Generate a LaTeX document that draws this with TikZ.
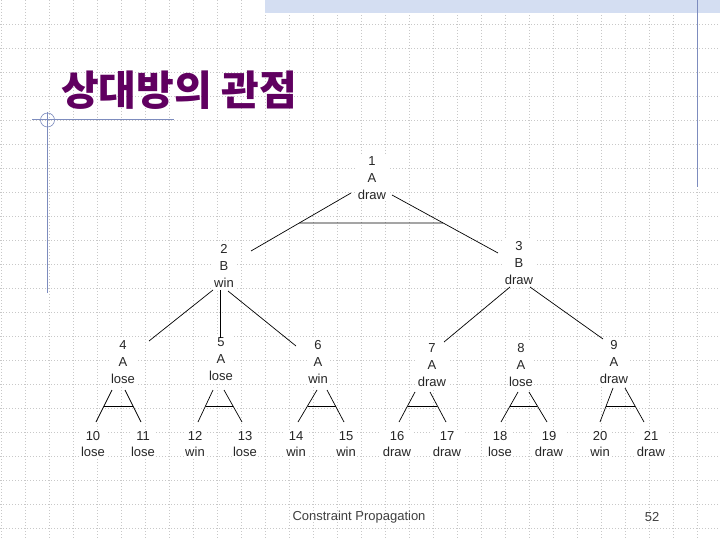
\documentclass[tikz,border=0pt]{standalone}
\usepackage{fontspec}
\setmainfont{Liberation Sans}
\newfontfamily\krfont{Noto Sans CJK KR}
\usetikzlibrary{calc}
\definecolor{titlepurple}{RGB}{96,0,96}
\definecolor{decoblue}{RGB}{125,140,190}
\definecolor{bandblue}{RGB}{212,222,242}
\definecolor{gridgray}{RGB}{200,200,200}
\begin{document}
\begin{tikzpicture}[x=1pt,y=-1pt,
  lbl/.style={font=\fontsize{13}{17}\selectfont, align=center, fill=white, inner sep=1.5pt, text=black!85},
  leaf/.style={font=\fontsize{13}{15.5}\selectfont, align=center, fill=white, inner sep=1.5pt, text=black!85},
  edge/.style={draw=black, line width=0.7pt},
  gridline/.style={draw=gridgray, line width=0.6pt, dash pattern=on 1pt off 2pt},
  deco/.style={draw=decoblue, line width=1pt},
  foot/.style={font=\fontsize{13}{13}\selectfont, text=black!75, inner sep=0pt}]
\useasboundingbox (0,0) rectangle (720,540);
\fill[white] (0,0) rectangle (720,540);
% background grid
\foreach \gx in {1,25,...,721} \draw[gridline] (\gx,0) -- (\gx,540);
\foreach \gy in {24,48,...,528} \draw[gridline] (0,\gy) -- (720,\gy);
% top band and decorations
\fill[bandblue] (265,0) rectangle (720,13);
\draw[deco] (697,0) -- (697,187);
\draw[deco] (32,120) -- (174,120);
\draw[deco] (47.5,112) -- (47.5,293);
\draw[decoblue, line width=0.6pt] (47.5,120) circle[radius=7];
% title
\node[font=\krfont\bfseries\fontsize{41}{41}\selectfont, text=titlepurple, inner sep=0pt] (title) at (179,90) {상대방의 관점};
% tree nodes
\node[lbl] (n1) at (372,178) {1\\A\\draw};
\node[lbl] (n2) at (224,266) {2\\B\\win};
\node[lbl] (n3) at (519,263) {3\\B\\draw};
\node[lbl] (n4) at (123,362) {4\\A\\lose};
\node[lbl] (n5) at (221,359) {5\\A\\lose};
\node[lbl] (n6) at (318,362) {6\\A\\win};
\node[lbl] (n7) at (432,365) {7\\A\\draw};
\node[lbl] (n8) at (521,365) {8\\A\\lose};
\node[lbl] (n9) at (614,362) {9\\A\\draw};
\foreach \i/\x/\t in {10/93/lose, 11/143/lose, 12/195/win, 13/245/lose, 14/296/win, 15/346/win, 16/397/draw, 17/447/draw, 18/500/lose, 19/549/draw, 20/600/win, 21/651/draw}
  \node[leaf] (l\i) at (\x,444) {\i\\\t};
% root edges
\draw[edge] ($(n1)+(-21,15)$) -- coordinate[pos=0.517] (r1) ($(n2)+(27,-15)$);
\draw[edge] ($(n1)+(20,17)$) -- coordinate[pos=0.483] (r2) ($(n3)+(-21,-10)$);
\draw[edge] (r1) -- (r2);
% node 2 edges
\draw[edge] ($(n2)+(-11,24)$) -- ($(n4)+(26,-21)$);
\draw[edge] ($(n2)+(-4,24)$) -- ($(n5)+(-1,-21)$);
\draw[edge] ($(n2)+(4,25)$) -- ($(n6)+(-22,-16)$);
% node 3 edges
\draw[edge] ($(n3)+(-9,24)$) -- ($(n7)+(12,-23)$);
\draw[edge] ($(n3)+(11,24)$) -- ($(n9)+(-11,-23)$);
% node 4
\draw[edge] ($(n4)+(-11,28)$) -- coordinate[pos=0.5] (a4) ($(l10)+(3,-22)$);
\draw[edge] ($(n4)+(2,28)$) -- coordinate[pos=0.5] (b4) ($(l11)+(-2,-22)$);
\draw[edge] (a4) -- (b4);
% node 5
\draw[edge] ($(n5)+(-8,31)$) -- coordinate[pos=0.5] (a5) ($(l12)+(3,-22)$);
\draw[edge] ($(n5)+(3,31)$) -- coordinate[pos=0.5] (b5) ($(l13)+(-3,-22)$);
\draw[edge] (a5) -- (b5);
% node 6
\draw[edge] ($(n6)+(-1,28)$) -- coordinate[pos=0.5] (a6) ($(l14)+(2,-22)$);
\draw[edge] ($(n6)+(9,28)$) -- coordinate[pos=0.5] (b6) ($(l15)+(-2,-22)$);
\draw[edge] (a6) -- (b6);
% node 7
\draw[edge] ($(n7)+(-17,27)$) -- coordinate[pos=0.467] (a7) ($(l16)+(2,-22)$);
\draw[edge] ($(n7)+(-2,27)$) -- coordinate[pos=0.467] (b7) ($(l17)+(-1,-22)$);
\draw[edge] (a7) -- (b7);
% node 8
\draw[edge] ($(n8)+(-3,27)$) -- coordinate[pos=0.467] (a8) ($(l18)+(1,-22)$);
\draw[edge] ($(n8)+(8,27)$) -- coordinate[pos=0.467] (b8) ($(l19)+(-2,-22)$);
\draw[edge] (a8) -- (b8);
% node 9
\draw[edge] ($(n9)+(-1,26)$) -- coordinate[pos=0.53] (a9) ($(l20)+(0,-22)$);
\draw[edge] ($(n9)+(11,26)$) -- coordinate[pos=0.53] (b9) ($(l21)+(-7,-22)$);
\draw[edge] (a9) -- (b9);
% footer
\node[foot] (footer) at (359,517) {Constraint Propagation};
\node[foot] (page) at (652,517) {52};
\end{tikzpicture}
\end{document}
